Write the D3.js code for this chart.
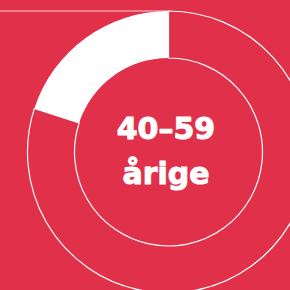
<!DOCTYPE html>
<html>
<head>
<meta charset="utf-8">
<script src="https://cdn.jsdelivr.net/npm/d3@7"></script>
<style>
  html, body { margin: 0; padding: 0; background: #e0304a; }
  svg { display: block; }
</style>
</head>
<body>
<div id="chart"></div>
<script>
// data: share of the age group vs. the rest
var segments = ["resten", "40-59 årige"];
var values = [80, 20];
var labelLines = ["40–59", "årige"];

var width = 290, height = 290;
var red = "#e0304a";

var svg = d3.select("#chart")
  .append("svg")
    .attr("width", width)
    .attr("height", height);

svg.append("rect")
    .attr("width", width)
    .attr("height", height)
    .attr("fill", red);

var cx = 168.5, cy = 152,
    outerR = 141, innerR = 94;

// thin rule running into the top of the ring
svg.append("line")
    .attr("x1", 0)
    .attr("x2", cx)
    .attr("y1", cy - outerR)
    .attr("y2", cy - outerR)
    .attr("stroke", "#fff")
    .attr("stroke-opacity", 0.75)
    .attr("stroke-width", 1.2);

var g = svg.append("g")
    .attr("transform", "translate(" + cx + "," + cy + ")");

var pie = d3.pie().sort(null);
var arc = d3.arc().innerRadius(innerR).outerRadius(outerR);

var color = d3.scaleOrdinal()
    .domain(segments)
    .range([red, "#ffffff"]);

g.selectAll("path")
  .data(pie(values))
  .enter().append("path")
    .attr("d", arc)
    .attr("fill", function(d, i) { return color(segments[i]); })
    .attr("stroke", function(d, i) { return i === 0 ? "#fff" : "none"; })
    .attr("stroke-width", 1.2);

// centre label (stroke thickens the bold face towards a black weight)
g.selectAll("text")
  .data(labelLines)
  .enter().append("text")
    .attr("x", -2.5)
    .attr("y", function(d, i) { return -13 + i * 45; })
    .attr("text-anchor", "middle")
    .attr("fill", "#fff")
    .attr("stroke", "#fff")
    .attr("stroke-width", 1)
    .attr("stroke-linejoin", "round")
    .attr("font-family", "'DejaVu Sans', sans-serif")
    .attr("font-weight", "bold")
    .attr("font-size", 30)
    .text(function(d) { return d; });
</script>
</body>
</html>
